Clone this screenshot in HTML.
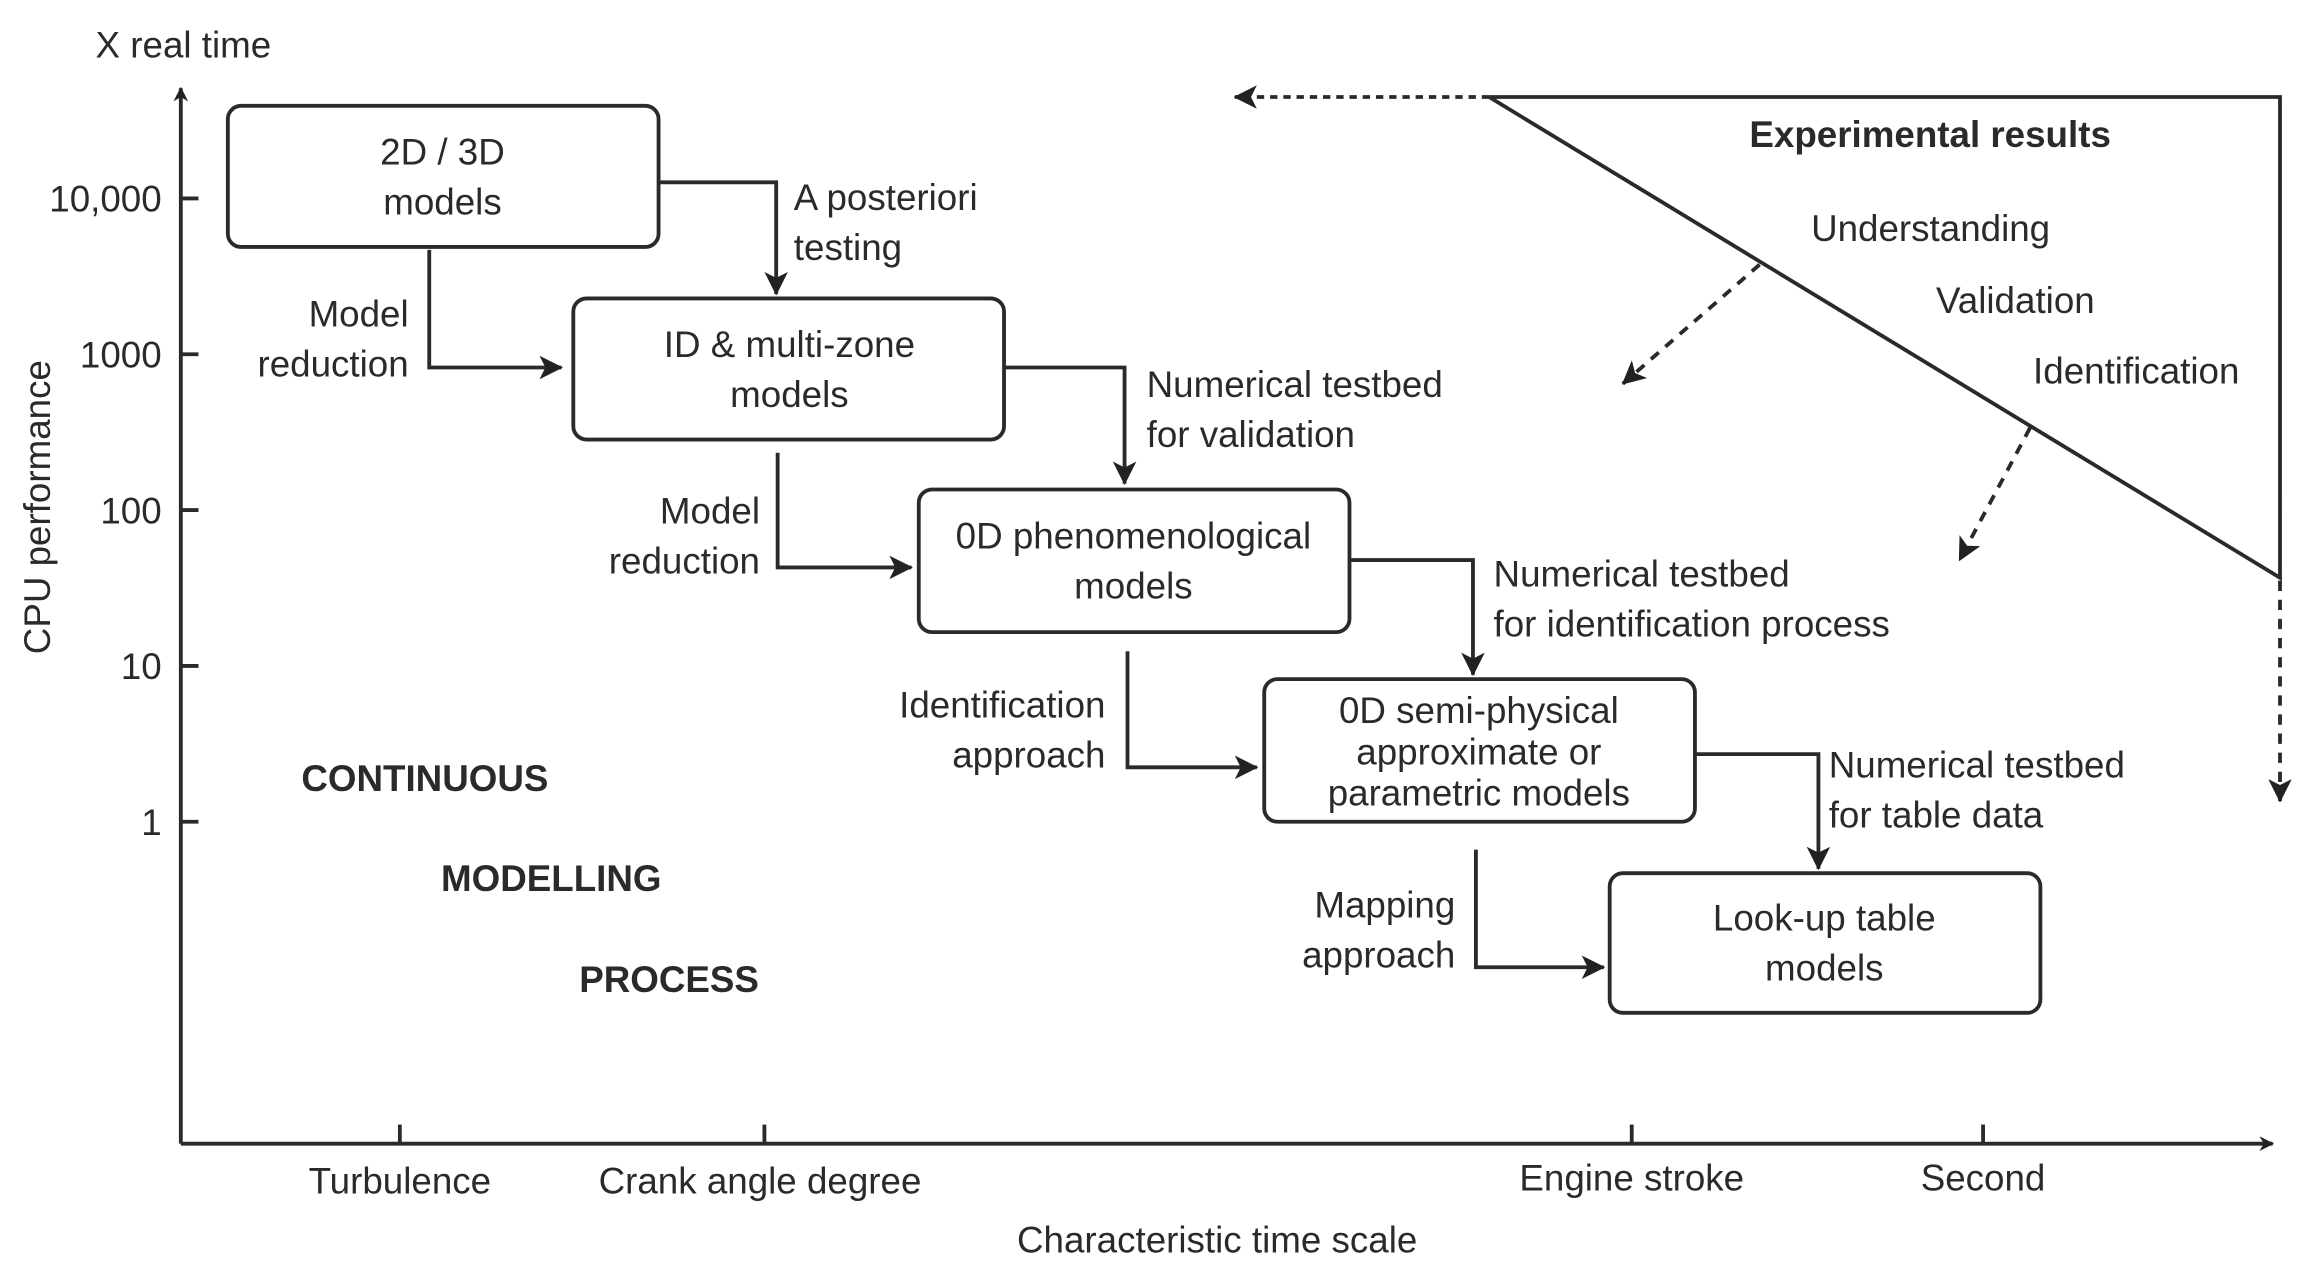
<!DOCTYPE html>
<html><head><meta charset="utf-8"><style>
html,body{margin:0;padding:0;background:#fff;}
svg{display:block;}
text{font-family:"Liberation Sans",Arial,sans-serif;font-size:25px;fill:#2a2a2a;}
.b{font-weight:bold;}
</style></head><body>
<svg width="2305" height="1277" viewBox="0 0 1568 868.7" preserveAspectRatio="none" xmlns="http://www.w3.org/2000/svg">
<defs>
<marker id="ah" markerWidth="10" markerHeight="10" refX="9" refY="5" orient="auto" markerUnits="userSpaceOnUse">
<path d="M0,0 L10,5 L0,10 L3,5 Z" fill="#222"/></marker>
<marker id="ah2" markerWidth="16" markerHeight="16" refX="15" refY="8" orient="auto" markerUnits="userSpaceOnUse">
<path d="M0,0 L16,8 L0,16 L4,8 Z" fill="#222"/></marker>
</defs>
<g stroke="#2a2a2a" stroke-width="2.6" fill="none">
<line x1="123" y1="778" x2="123" y2="60" marker-end="url(#ah)"/>
<line x1="123" y1="778" x2="1546" y2="778" marker-end="url(#ah)"/>
<line x1="123" y1="135" x2="135" y2="135"/><line x1="123" y1="241" x2="135" y2="241"/>
<line x1="123" y1="347" x2="135" y2="347"/><line x1="123" y1="453" x2="135" y2="453"/>
<line x1="123" y1="559" x2="135" y2="559"/>
<line x1="272" y1="765" x2="272" y2="778"/><line x1="520" y1="765" x2="520" y2="778"/>
<line x1="1110" y1="765" x2="1110" y2="778"/><line x1="1349" y1="765" x2="1349" y2="778"/>
<rect x="155" y="72" width="293" height="96" rx="9"/>
<rect x="390" y="203" width="293" height="96" rx="9"/>
<rect x="625" y="333" width="293" height="97" rx="9"/>
<rect x="860" y="462" width="293" height="97" rx="9"/>
<rect x="1095" y="594" width="293" height="95" rx="9"/>
<polyline points="448,124 528,124 528,200" marker-end="url(#ah2)"/>
<polyline points="292,170 292,250 382,250" marker-end="url(#ah2)"/>
<polyline points="683,250 765,250 765,329" marker-end="url(#ah2)"/>
<polyline points="529,308 529,386 620,386" marker-end="url(#ah2)"/>
<polyline points="918,381 1002,381 1002,459" marker-end="url(#ah2)"/>
<polyline points="767,443 767,522 855,522" marker-end="url(#ah2)"/>
<polyline points="1153,513 1237,513 1237,591" marker-end="url(#ah2)"/>
<polyline points="1004,578 1004,658 1091,658" marker-end="url(#ah2)"/>
<polyline points="1013,66 1551,66 1551,393 1013,66"/>
<line x1="1013" y1="66" x2="840" y2="66" stroke-dasharray="5,4" marker-end="url(#ah2)"/>
<line x1="1551" y1="395" x2="1551" y2="545" stroke-dasharray="7,6" marker-end="url(#ah2)"/>
<line x1="1197" y1="180" x2="1104" y2="261" stroke-dasharray="7,6" marker-end="url(#ah2)"/>
<line x1="1381" y1="291" x2="1333" y2="381" stroke-dasharray="7,6" marker-end="url(#ah2)"/>
</g>
<text x="65" y="39">X real time</text>
<text x="110" y="144" text-anchor="end">10,000</text>
<text x="110" y="250" text-anchor="end">1000</text>
<text x="110" y="356" text-anchor="end">100</text>
<text x="110" y="462" text-anchor="end">10</text>
<text x="110" y="568" text-anchor="end">1</text>
<text transform="translate(34,345) rotate(-90)" text-anchor="middle">CPU performance</text>
<text x="272" y="812" text-anchor="middle">Turbulence</text>
<text x="517" y="812" text-anchor="middle">Crank angle degree</text>
<text x="1110" y="810" text-anchor="middle">Engine stroke</text>
<text x="1349" y="810" text-anchor="middle">Second</text>
<text x="828" y="852" text-anchor="middle">Characteristic time scale</text>
<text x="301" y="112" text-anchor="middle">2D / 3D</text>
<text x="301" y="146" text-anchor="middle">models</text>
<text x="537" y="243" text-anchor="middle">ID &amp; multi-zone</text>
<text x="537" y="277" text-anchor="middle">models</text>
<text x="771" y="373" text-anchor="middle">0D phenomenological</text>
<text x="771" y="407" text-anchor="middle">models</text>
<text x="1006" y="492" text-anchor="middle">0D semi-physical</text>
<text x="1006" y="520" text-anchor="middle">approximate or</text>
<text x="1006" y="548" text-anchor="middle">parametric models</text>
<text x="1241" y="633" text-anchor="middle">Look-up table</text>
<text x="1241" y="667" text-anchor="middle">models</text>
<text x="540" y="143">A posteriori</text>
<text x="540" y="177">testing</text>
<text x="278" y="222" text-anchor="end">Model</text>
<text x="278" y="256" text-anchor="end">reduction</text>
<text x="780" y="270">Numerical testbed</text>
<text x="780" y="304">for validation</text>
<text x="517" y="356" text-anchor="end">Model</text>
<text x="517" y="390" text-anchor="end">reduction</text>
<text x="1016" y="399">Numerical testbed</text>
<text x="1016" y="433">for identification process</text>
<text x="752" y="488" text-anchor="end">Identification</text>
<text x="752" y="522" text-anchor="end">approach</text>
<text x="1244" y="529">Numerical testbed</text>
<text x="1244" y="563">for table data</text>
<text x="990" y="624" text-anchor="end">Mapping</text>
<text x="990" y="658" text-anchor="end">approach</text>
<text class="b" x="205" y="538">CONTINUOUS</text>
<text class="b" x="300" y="606">MODELLING</text>
<text class="b" x="394" y="675">PROCESS</text>
<text class="b" x="1313" y="100" text-anchor="middle">Experimental results</text>
<text x="1232" y="164">Understanding</text>
<text x="1317" y="213">Validation</text>
<text x="1383" y="261">Identification</text>
</svg>
</body></html>
